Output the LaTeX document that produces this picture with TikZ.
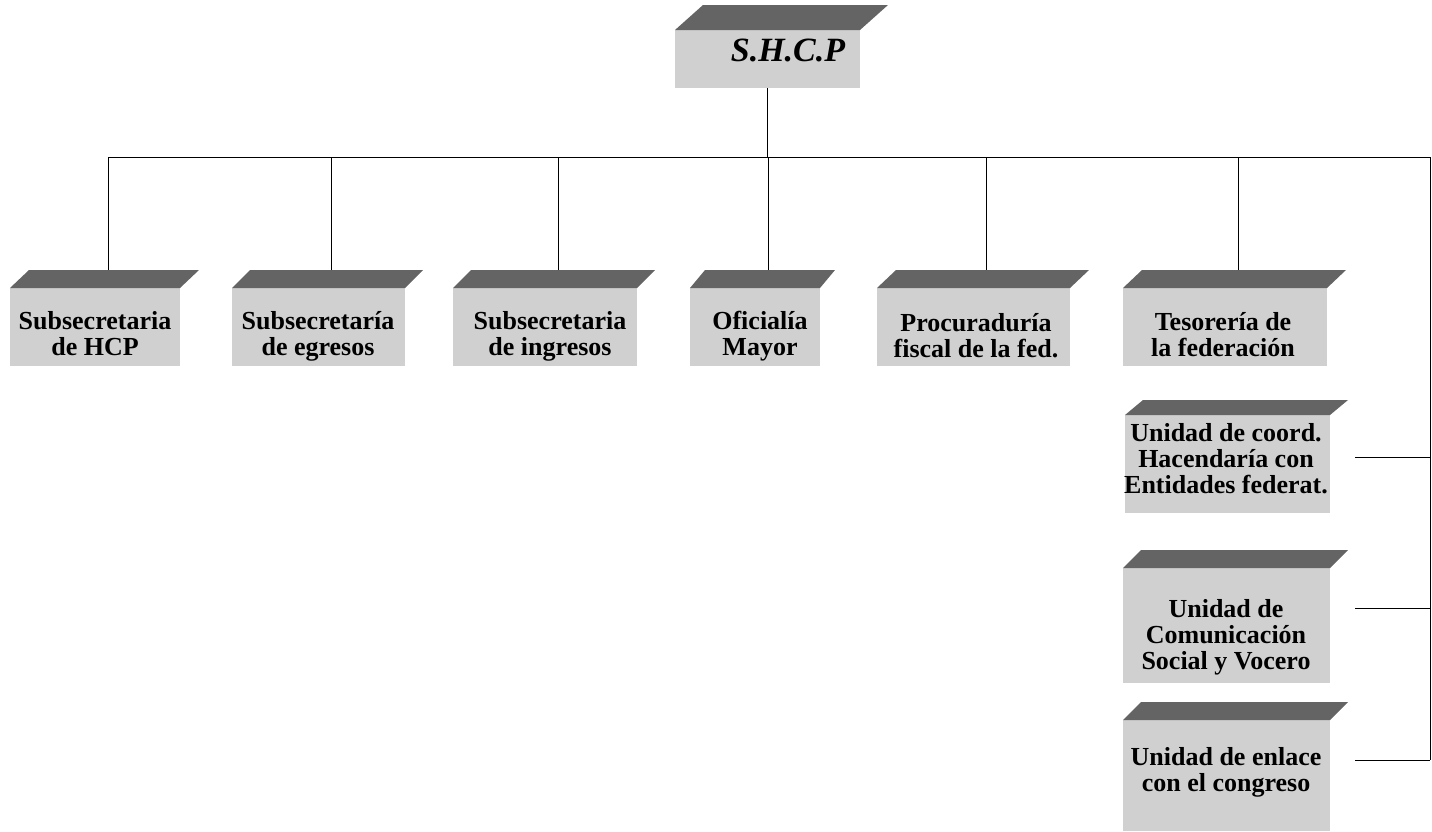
\documentclass[tikz,border=0pt]{standalone}
\usepackage{fontspec}
\setmainfont{Liberation Serif}
\definecolor{grisfrente}{RGB}{208,208,208}
\definecolor{gristapa}{RGB}{100,100,100}
\tikzset{
	frente/.style={fill=grisfrente,inner sep=0pt,outer sep=0pt},
	texto/.style={align=center,inner sep=0pt,font=\bfseries\fontsize{26}{26}\selectfont},
	linea/.style={line width=1pt}
}

\begin{document}
\begin{tikzpicture}[x=1pt,y=-1pt]
\useasboundingbox (0,0) rectangle (1432,831);

% caras frontales
\node (shcp) at (767.5,59) [frente,minimum width=185,minimum height=58] {};
\node (hcp) at (95,327) [frente,minimum width=170,minimum height=78] {};
\node (egr) at (318.5,327) [frente,minimum width=173,minimum height=78] {};
\node (ing) at (545,327) [frente,minimum width=184,minimum height=78] {};
\node (ofi) at (755,327) [frente,minimum width=130,minimum height=78] {};
\node (proc) at (973.5,327) [frente,minimum width=193,minimum height=78] {};
\node (teso) at (1225,327) [frente,minimum width=204,minimum height=78] {};
\node (coord) at (1227.5,464) [frente,minimum width=205,minimum height=98] {};
\node (comu) at (1226.5,625.5) [frente,minimum width=207,minimum height=115] {};
\node (enl) at (1226.5,775.5) [frente,minimum width=207,minimum height=111] {};

% tapas
\foreach \n/\dx/\dy in {shcp/28/25,hcp/19/18,egr/18/18,ing/18/18,ofi/15/18,proc/19/18,teso/19/18,coord/18/15,comu/18/18,enl/18/18} {
	\fill[gristapa] (\n.north west) -- ++(\dx pt,\dy pt) -- ([shift={(\dx pt,\dy pt)}]\n.north east) -- (\n.north east) -- cycle;
	\coordinate (\n-top) at ([shift={(13pt,\dy pt)}]\n.north);
	}

% textos
\node (shcp-txt) at (788,50) [texto,font=\bfseries\itshape\fontsize{34}{34}\selectfont] {S.H.C.P};
\node (hcp-txt) at (95,334) [texto] {Subsecretaria\\de HCP};
\node (egr-txt) at (318,336) [texto] {Subsecretaría\\de egresos};
\node (ing-txt) at (550,336) [texto] {Subsecretaria\\de ingresos};
\node (ofi-txt) at (760,336) [texto] {Oficialía\\Mayor};
\node (proc-txt) at (976,336) [texto] {Procuraduría\\fiscal de la fed.};
\node (teso-txt) at (1223,335) [texto] {Tesorería de\\la federación};
\node (coord-txt) at (1226,459) [texto] {Unidad de coord.\\Hacendaría con\\Entidades federat.};
\node (comu-txt) at (1226,637) [texto] {Unidad de\\Comunicación\\Social y Vocero};
\node (enl-txt) at (1226,772) [texto] {Unidad de enlace\\con el congreso};

% conectores
\coordinate (bus) at (1430,157);
\coordinate (coord-e) at (1355,457);
\coordinate (comu-e) at (1355,608);
\coordinate (enl-e) at (1355,760);
\draw[linea] (shcp.south) -- (shcp.south |- bus);
\draw[linea] (hcp-top |- bus) -- (bus) -- (bus |- enl-e);
\foreach \n in {hcp,egr,ing,ofi,proc,teso}
	\draw[linea] (\n-top) -- (\n-top |- bus);
\foreach \n in {coord,comu,enl}
	\draw[linea] (\n-e) -- (bus |- \n-e);
\end{tikzpicture}
\end{document}
